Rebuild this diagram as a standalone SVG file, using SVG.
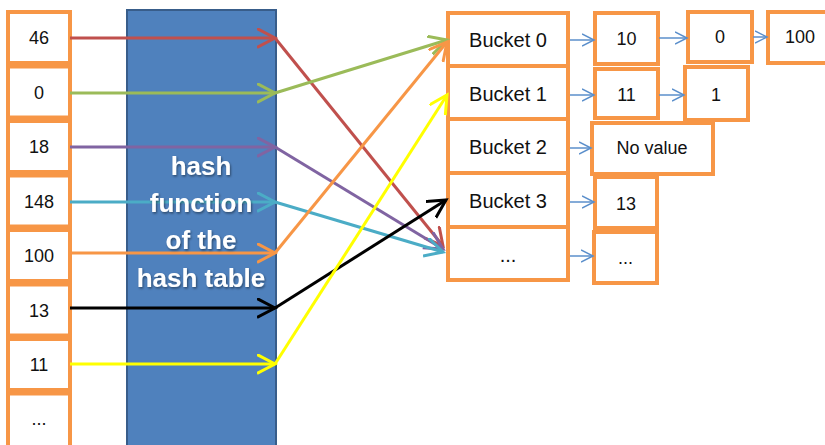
<svg xmlns="http://www.w3.org/2000/svg" width="825" height="445" viewBox="0 0 825 445">
<defs>
<style>
.box{fill:#fff;stroke:#F79646;stroke-width:4}
.t{font-family:"Liberation Sans",Arial,sans-serif;font-size:18px;fill:#111;text-anchor:middle;dominant-baseline:central}
.tb{font-family:"Liberation Sans",Arial,sans-serif;font-size:20px;fill:#111;text-anchor:middle;dominant-baseline:central}
.ht{font-family:"Liberation Sans",Arial,sans-serif;font-size:26px;font-weight:bold;fill:#fff;text-anchor:middle}
.c{fill:none;stroke-width:3}
.s{fill:none;stroke:#5B8FCB;stroke-width:1.5}
</style>
<filter id="sh" x="-10%" y="-10%" width="120%" height="130%"><feDropShadow dx="1" dy="1.5" stdDeviation="1" flood-color="#000" flood-opacity="0.45"/></filter>
<marker id="mr" markerUnits="userSpaceOnUse" markerWidth="22" markerHeight="24" refX="18" refY="10" orient="auto"><path d="M0,0.5 L18,10 L0,19.5" fill="none" stroke="#C0504D" stroke-width="3"/></marker>
<marker id="mg" markerUnits="userSpaceOnUse" markerWidth="22" markerHeight="24" refX="18" refY="10" orient="auto"><path d="M0,0.5 L18,10 L0,19.5" fill="none" stroke="#9BBB59" stroke-width="3"/></marker>
<marker id="mp" markerUnits="userSpaceOnUse" markerWidth="22" markerHeight="24" refX="18" refY="10" orient="auto"><path d="M0,0.5 L18,10 L0,19.5" fill="none" stroke="#8064A2" stroke-width="3"/></marker>
<marker id="mc" markerUnits="userSpaceOnUse" markerWidth="22" markerHeight="24" refX="18" refY="10" orient="auto"><path d="M0,0.5 L18,10 L0,19.5" fill="none" stroke="#4BACC6" stroke-width="3"/></marker>
<marker id="mo" markerUnits="userSpaceOnUse" markerWidth="22" markerHeight="24" refX="18" refY="10" orient="auto"><path d="M0,0.5 L18,10 L0,19.5" fill="none" stroke="#F79646" stroke-width="3"/></marker>
<marker id="mk" markerUnits="userSpaceOnUse" markerWidth="22" markerHeight="24" refX="18" refY="10" orient="auto"><path d="M0,0.5 L18,10 L0,19.5" fill="none" stroke="#000" stroke-width="3"/></marker>
<marker id="my" markerUnits="userSpaceOnUse" markerWidth="22" markerHeight="24" refX="18" refY="10" orient="auto"><path d="M0,0.5 L18,10 L0,19.5" fill="none" stroke="#FFFF00" stroke-width="3"/></marker>
<marker id="ms" markerUnits="userSpaceOnUse" markerWidth="14" markerHeight="16" refX="12" refY="7" orient="auto"><path d="M0,1 L12,7 L0,13" fill="none" stroke="#5B8FCB" stroke-width="1.5"/></marker>
</defs>

<g id="hash-function">
<rect x="127" y="10" width="149" height="440" fill="#4F81BD" stroke="#385D8A" stroke-width="2"/>
</g>

<g id="keys">
<g id="k46"><rect class="box" x="8" y="12" width="62" height="51"/><text class="t" x="39" y="38">46</text></g>
<g id="k0"><rect class="box" x="8" y="66.5" width="62" height="51"/><text class="t" x="39" y="92.5">0</text></g>
<g id="k18"><rect class="box" x="8" y="121" width="62" height="51"/><text class="t" x="39" y="147">18</text></g>
<g id="k148"><rect class="box" x="8" y="175.5" width="62" height="51"/><text class="t" x="39" y="201.5">148</text></g>
<g id="k100"><rect class="box" x="8" y="230" width="62" height="51"/><text class="t" x="39" y="256">100</text></g>
<g id="k13"><rect class="box" x="8" y="284.5" width="62" height="51"/><text class="t" x="39" y="310.5">13</text></g>
<g id="k11"><rect class="box" x="8" y="339" width="62" height="51"/><text class="t" x="39" y="365">11</text></g>
<g id="kmore"><rect class="box" x="8" y="393.5" width="62" height="56"/><text class="t" x="39" y="419">...</text></g>
</g>

<g id="buckets">
<g id="b0"><rect class="box" x="448" y="13" width="120" height="53"/><text class="tb" x="508" y="40">Bucket 0</text></g>
<g id="b1"><rect class="box" x="448" y="66" width="120" height="53"/><text class="tb" x="508" y="94">Bucket 1</text></g>
<g id="b2"><rect class="box" x="448" y="119" width="120" height="54"/><text class="tb" x="508" y="147">Bucket 2</text></g>
<g id="b3"><rect class="box" x="448" y="173" width="120" height="54"/><text class="tb" x="508" y="201">Bucket 3</text></g>
<g id="bmore"><rect class="box" x="448" y="227" width="120" height="53"/><text class="tb" x="508" y="255">...</text></g>
</g>

<g id="chains">
<g id="v10"><rect class="box" x="595" y="13" width="63" height="51"/><text class="t" x="626.5" y="39">10</text></g>
<g id="v0"><rect class="box" x="688" y="12" width="64" height="50"/><text class="t" x="720" y="37">0</text></g>
<g id="v100"><rect class="box" x="768" y="12" width="64" height="51"/><text class="t" x="800" y="37">100</text></g>
<g id="v11"><rect class="box" x="595" y="69" width="63" height="49"/><text class="t" x="626.5" y="95">11</text></g>
<g id="v1"><rect class="box" x="685" y="67" width="63" height="53"/><text class="t" x="716" y="95">1</text></g>
<g id="vnone"><rect class="box" x="592" y="123" width="121" height="51"/><text class="t" x="652" y="148">No value</text></g>
<g id="v13"><rect class="box" x="595" y="177" width="62" height="51"/><text class="t" x="626" y="204">13</text></g>
<g id="vmore"><rect class="box" x="594" y="232" width="63" height="51"/><text class="t" x="625.5" y="258">...</text></g>
</g>

<g id="connectors">
<line class="c" stroke="#C0504D" x1="70" y1="38" x2="275" y2="38" marker-end="url(#mr)"/>
<line class="c" stroke="#9BBB59" x1="70" y1="93" x2="275" y2="93" marker-end="url(#mg)"/>
<line class="c" stroke="#8064A2" x1="70" y1="147" x2="275" y2="147" marker-end="url(#mp)"/>
<line class="c" stroke="#4BACC6" x1="70" y1="202" x2="275" y2="202" marker-end="url(#mc)"/>
<line class="c" stroke="#F79646" x1="70" y1="253" x2="275" y2="253" marker-end="url(#mo)"/>
<line class="c" stroke="#000" x1="70" y1="308" x2="275" y2="308" marker-end="url(#mk)"/>
<line class="c" stroke="#FFFF00" x1="70" y1="364" x2="275" y2="364" marker-end="url(#my)"/>

<line class="c" stroke="#C0504D" x1="275" y1="38" x2="443" y2="246" marker-end="url(#mr)"/>
<line class="c" stroke="#9BBB59" x1="275" y1="93" x2="447" y2="40" marker-end="url(#mg)"/>
<line class="c" stroke="#8064A2" x1="275" y1="147" x2="443" y2="249" marker-end="url(#mp)"/>
<line class="c" stroke="#4BACC6" x1="275" y1="202" x2="443" y2="252" marker-end="url(#mc)"/>
<line class="c" stroke="#F79646" x1="275" y1="253" x2="447" y2="42" marker-end="url(#mo)"/>
<line class="c" stroke="#000" x1="275" y1="308" x2="446" y2="200" marker-end="url(#mk)"/>
<line class="c" stroke="#FFFF00" x1="275" y1="364" x2="447" y2="95" marker-end="url(#my)"/>

<line class="s" x1="570" y1="40" x2="594" y2="40" marker-end="url(#ms)"/>
<line class="s" x1="570" y1="95" x2="594" y2="95" marker-end="url(#ms)"/>
<line class="s" x1="570" y1="148" x2="591" y2="148" marker-end="url(#ms)"/>
<line class="s" x1="570" y1="202" x2="594" y2="202" marker-end="url(#ms)"/>
<line class="s" x1="570" y1="256" x2="593" y2="256" marker-end="url(#ms)"/>
<line class="s" x1="659" y1="38" x2="687" y2="38" marker-end="url(#ms)"/>
<line class="s" x1="753" y1="37" x2="767" y2="37" marker-end="url(#ms)"/>
<line class="s" x1="659" y1="95" x2="684" y2="95" marker-end="url(#ms)"/>
</g>

<g id="hash-function-label" filter="url(#sh)">
<text class="ht" x="201" y="175">hash</text>
<text class="ht" x="201" y="212">function</text>
<text class="ht" x="201" y="249">of the</text>
<text class="ht" x="201" y="287">hash table</text>
</g>
</svg>
